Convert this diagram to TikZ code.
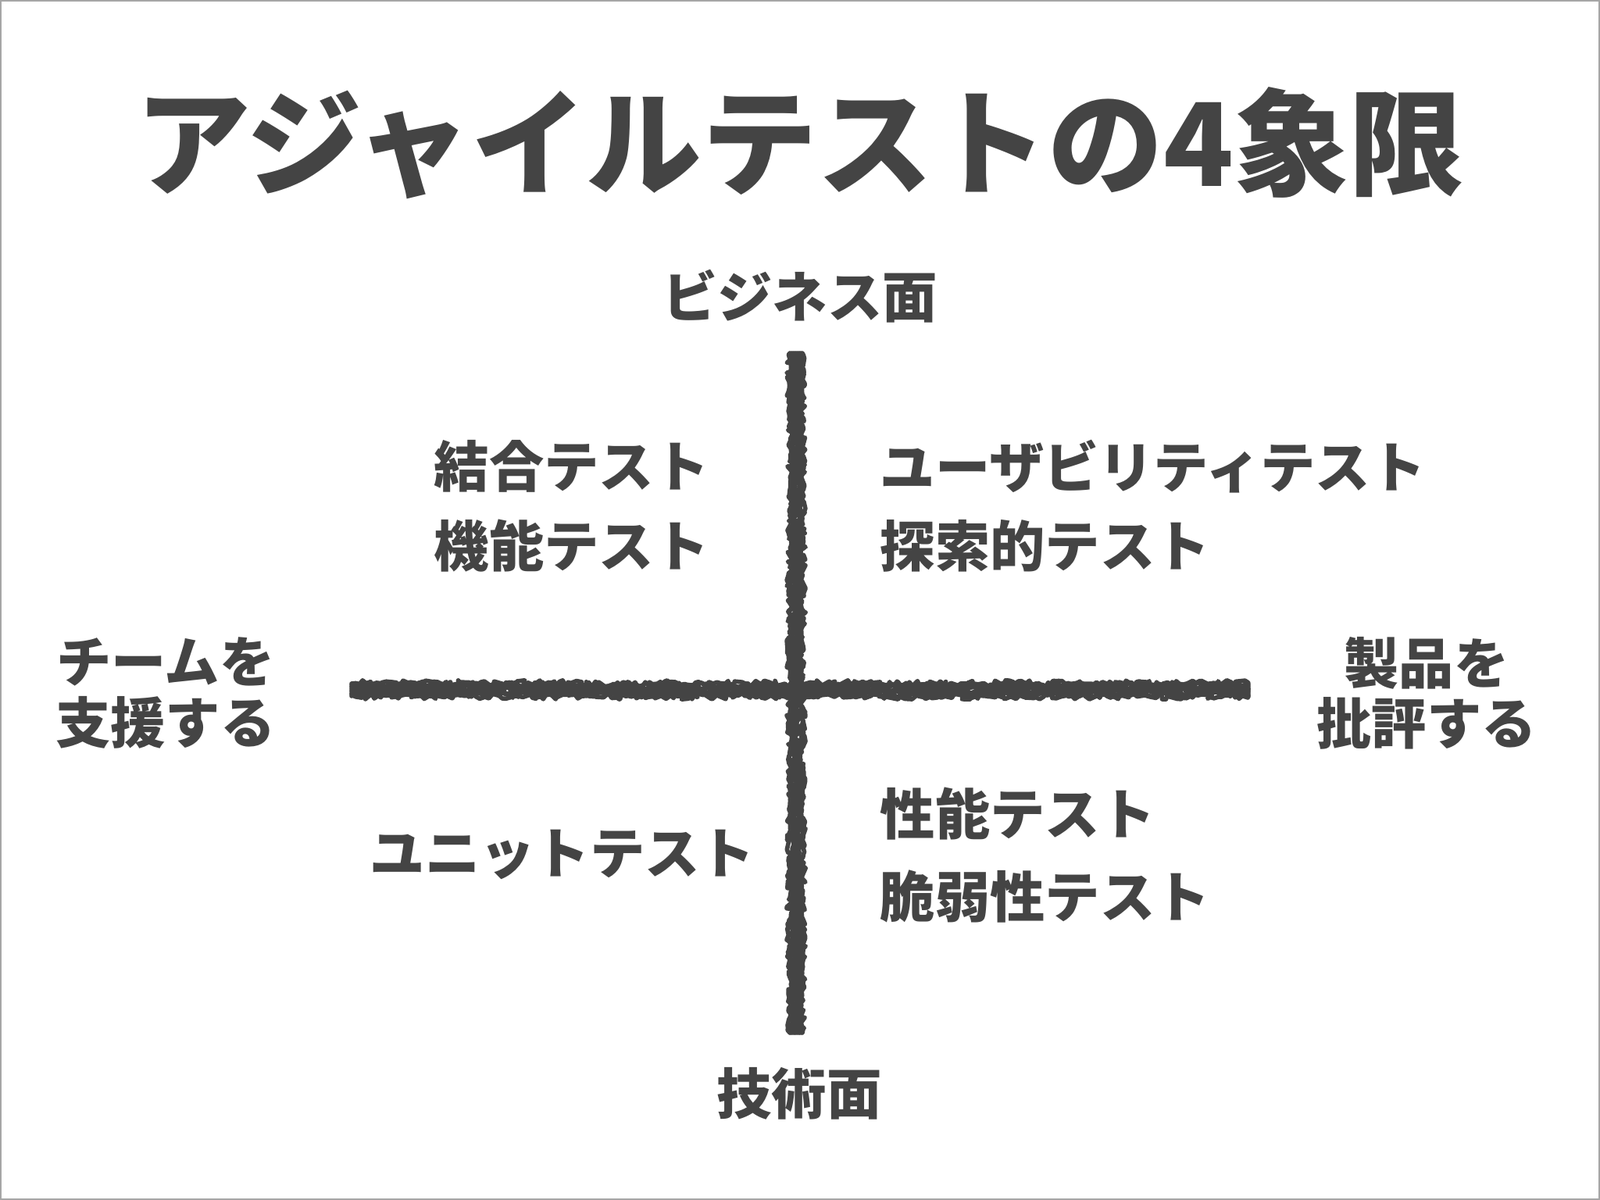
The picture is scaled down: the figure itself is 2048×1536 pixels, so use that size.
\documentclass[tikz,border=0pt]{standalone}
\usepackage{fontspec}
\setmainfont{Noto Sans CJK JP}
\usetikzlibrary{decorations.pathmorphing}
\definecolor{ink}{HTML}{444444}
\tikzset{
 lbl/.style={text=ink,font=\fontsize{20pt}{22pt}\selectfont\bfseries,inner sep=0pt},
 chalk/.style={draw=ink,line join=round,line cap=round,decorate,decoration={random steps,segment length=1.2pt,amplitude=1.2pt}},
}
\begin{document}
\begin{tikzpicture}[x=0.01cm,y=-0.01cm]
\useasboundingbox (0,0) rectangle (2048,1536);
\draw[gray!70,line width=0.6pt] (1,1) rectangle (2047,1535);
\node[text=ink,font=\fontsize{42pt}{44pt}\selectfont\bfseries,inner sep=0pt] (title) at (1024,183) {アジャイルテストの4象限};
\coordinate (vt) at (1019,452); \coordinate (vb) at (1019,1322);
\coordinate (hl) at (450,883); \coordinate (hr) at (1598,883);
\foreach \o in {-8,-6,-4,-2,0,2,4,6,8}{
 \path[chalk,line width=1.6pt] ([xshift=\o*0.01cm]vt) -- ([xshift=\o*0.01cm]vb);
 \path[chalk,line width=1.6pt] ([yshift=-\o*0.01cm]hl) -- ([yshift=-\o*0.01cm]hr);
}
\node[lbl] (biz) at (1024,379) {ビジネス面};
\node[lbl] (tech) at (1023,1400) {技術面};
\node[lbl,align=center] (team) at (212,887) {チームを\\支援する};
\node[lbl,align=center] (prod) at (1826,887) {製品を\\批評する};
\node[lbl,anchor=west] (q1a) at (555,597) {結合テスト};
\node[lbl,anchor=west] (q1b) at (555,699) {機能テスト};
\node[lbl,anchor=west] (q2a) at (1126,597) {ユーザビリティテスト};
\node[lbl,anchor=west] (q2b) at (1126,699) {探索的テスト};
\node[lbl,anchor=west] (q3) at (473,1094) {ユニットテスト};
\node[lbl,anchor=west] (q4a) at (1126,1042) {性能テスト};
\node[lbl,anchor=west] (q4b) at (1126,1147) {脆弱性テスト};
\end{tikzpicture}
\end{document}
